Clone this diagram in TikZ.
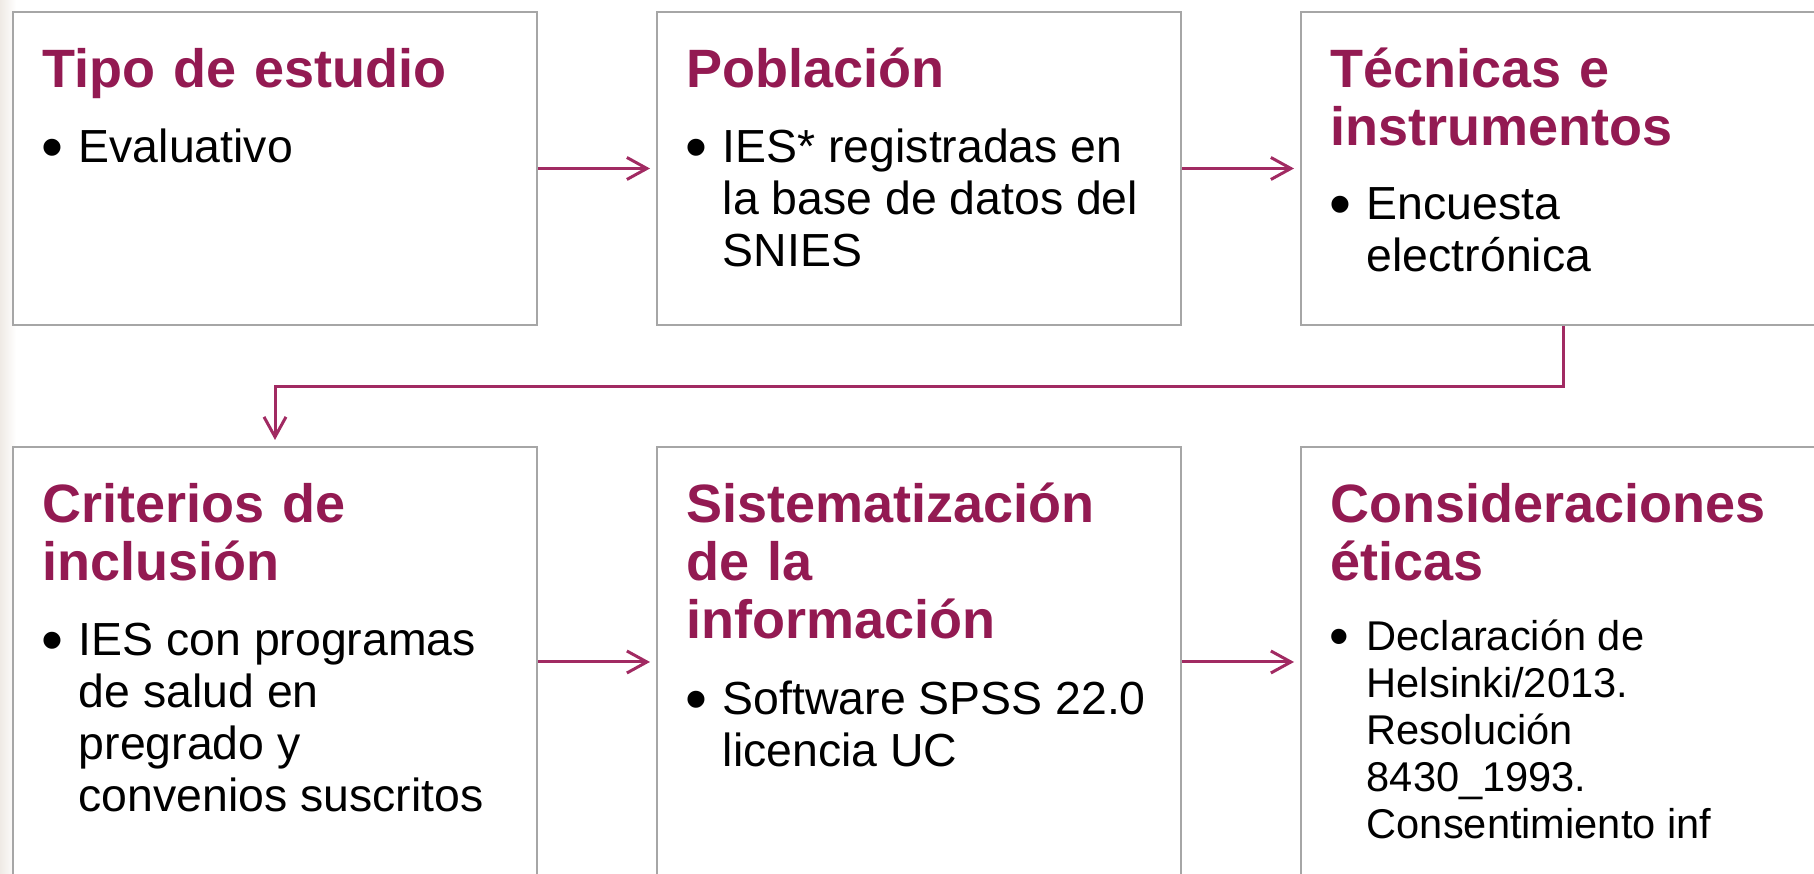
\documentclass[tikz,border=0pt]{standalone}
\usepackage{fontspec}
\setmainfont{Liberation Sans}
\usetikzlibrary{arrows.meta,positioning}

\definecolor{vino}{HTML}{931A52}
\definecolor{flecha}{HTML}{A12A62}
\definecolor{borde}{HTML}{A6A6A6}
\definecolor{fondo}{HTML}{EFEAE5}

\newcommand{\punto}[1]{\makebox[8.5pt][l]{\hspace{-0.8pt}\raisebox{-0.11em}{\scalebox{1.35}{\textbullet}}}\parbox[t]{112pt}{#1}}

\begin{document}
\begin{tikzpicture}[x=0.25pt, y=-0.25pt]

		\tikzstyle{caja}=[rectangle, draw=borde, line width=0.5pt, fill=white, anchor=north west, minimum width=131pt, inner sep=0pt]
		\tikzstyle{titulo}=[anchor=base west, inner sep=0pt, text width=128pt, text=vino, font=\fontsize{13.5}{14.5}\selectfont\bfseries]
		\tikzstyle{cuerpo}=[anchor=base west, inner sep=0pt, text=black, font=\fontsize{11.6}{13}\selectfont]
		\tikzstyle{enlace}=[-{Straight Barb[length=5pt, width=5.5pt]}, draw=flecha, line width=0.75pt, shorten >=1.5pt]

		\useasboundingbox (0,0) rectangle (1814,874);
		\clip (0,0) rectangle (1814,874);
		\fill[left color=fondo, right color=white] (0,0) rectangle (16,874);

		% first row
		\node[caja, minimum height=78.25pt] (c1) at (12,11) {};
		\node[caja, minimum height=78.25pt] (c2) at (656,11) {};
		\node[caja, minimum height=78.25pt] (c3) at (1300,11) {};
		% second row
		\node[caja, minimum height=107.5pt] (c4) at (12,446) {};
		\node[caja, minimum height=107.5pt] (c5) at (656,446) {};
		\node[caja, minimum height=107.5pt] (c6) at (1300,446) {};

		\node[titulo] (t1) at (42,88) {Tipo de estudio};
		\node[cuerpo] (d1) at (44,163) {\punto{Evaluativo}};

		\node[titulo] (t2) at (686,88) {Población};
		\node[cuerpo] (d2) at (688,163) {\punto{IES* registradas en\\la base de datos del\\SNIES}};

		\node[titulo] (t3) at (1330,88) {Técnicas e\\instrumentos};
		\node[cuerpo] (d3) at (1332,220) {\punto{Encuesta\\electrónica}};

		\node[titulo] (t4) at (42,523) {Criterios de\\inclusión};
		\node[cuerpo] (d4) at (44,656) {\punto{IES con programas\\de salud en\\pregrado y\\convenios suscritos}};

		\node[titulo] (t5) at (686,523) {Sistematización\\de la\\información};
		\node[cuerpo] (d5) at (688,715) {\punto{Software SPSS 22.0\\licencia UC}};

		\node[titulo] (t6) at (1330,523) {Consideraciones\\éticas};
		\node[cuerpo, font=\fontsize{10.4}{11.7}\selectfont] (d6) at (1332,651) {\punto{Declaración de\\Helsinki/2013.\\Resolución\\8430\_1993.\\Consentimiento inf}};

		% links between steps
		\draw[enlace] (c1.east) -- (c2.west);
		\draw[enlace] (c2.east) -- (c3.west);
		\draw[enlace] (c3.south) -- ++(0,61) -| (c4.north);
		\draw[enlace] (c4.east) -- (c5.west);
		\draw[enlace] (c5.east) -- (c6.west);

\end{tikzpicture}
\end{document}
